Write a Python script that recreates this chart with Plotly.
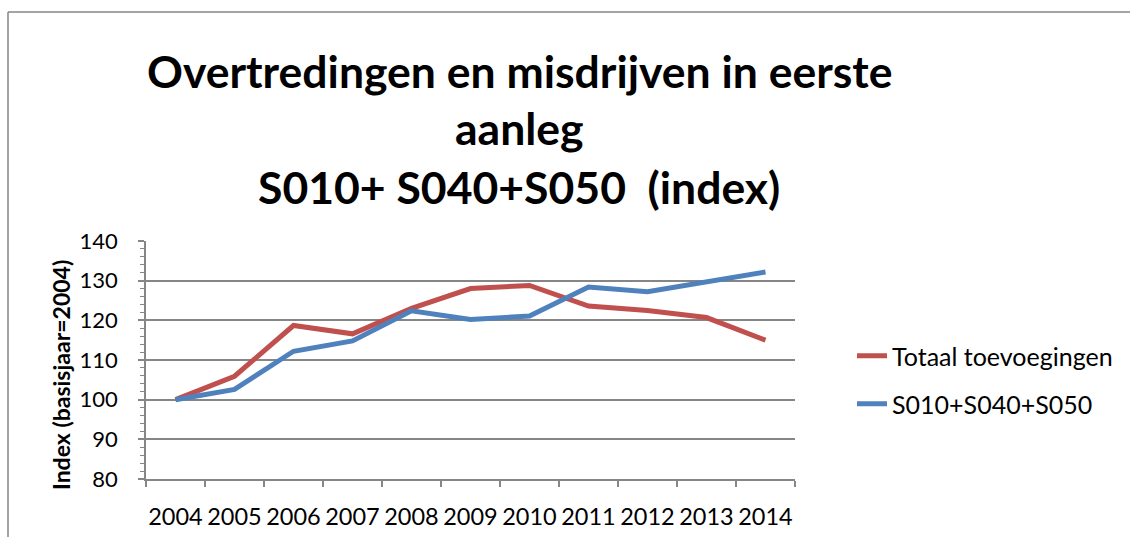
import plotly.graph_objects as go

years = ["2004", "2005", "2006", "2007", "2008", "2009", "2010", "2011", "2012", "2013", "2014"]
totaal = [100.0, 105.9, 118.7, 116.6, 123.0, 128.0, 128.8, 123.6, 122.5, 120.7, 115.0]
s010_s040_s050 = [100.0, 102.6, 112.2, 114.8, 122.4, 120.2, 121.1, 128.4, 127.2, 129.8, 132.2]
title_lines = ["Overtredingen en misdrijven in eerste", "aanleg", "S010+ S040+S050  (index)"]
y_title = "Index (basisjaar=2004)"

W, H = 1130, 537
L, R, T, B = 146, 795, 241, 479
pw, ph = R - L, B - T

def px(x):
    return (x - L) / pw

def py(y):
    return (B - y) / ph

FONT = "Lato"
grey = "#868686"

fig = go.Figure()
fig.add_trace(go.Scatter(x=years, y=totaal, mode="lines", name="Totaal toevoegingen",
                         line=dict(color="#C0504D", width=5), legend="legend"))
fig.add_trace(go.Scatter(x=years, y=s010_s040_s050, mode="lines", name="S010+S040+S050",
                         line=dict(color="#4F81BD", width=5), legend="legend2"))

annotations = []
for txt, yc in zip(title_lines, [70, 128, 186]):
    annotations.append(dict(text="<b>" + txt + "</b>", x=px(519), y=py(yc), xref="paper", yref="paper",
                            xanchor="center", yanchor="middle", showarrow=False,
                            font=dict(family=FONT, size=44.5, color="black")))
annotations.append(dict(text="<b>" + y_title + "</b>", x=px(61), y=py(375), xref="paper", yref="paper",
                        xanchor="center", yanchor="middle", showarrow=False, textangle=-90,
                        font=dict(family=FONT, size=23, color="black")))

shapes = [
    dict(type="line", xref="paper", yref="paper", x0=px(8), x1=px(1135), y0=py(12), y1=py(12),
         line=dict(color=grey, width=1.5)),
    dict(type="line", xref="paper", yref="paper", x0=px(8), x1=px(8), y0=py(12), y1=py(540),
         line=dict(color=grey, width=1.5)),
]

leg_common = dict(xref="paper", yref="paper", xanchor="left", yanchor="middle",
                  font=dict(family=FONT, size=25, color="black"), bgcolor="rgba(0,0,0,0)",
                  itemwidth=30)

fig.update_layout(
    width=W, height=H,
    margin=dict(l=L, r=W - R, t=T, b=H - B, pad=0, autoexpand=False),
    paper_bgcolor="white", plot_bgcolor="white",
    showlegend=True,
    legend=dict(x=px(852), y=py(356), **leg_common),
    legend2=dict(x=px(852), y=py(404), **leg_common),
    annotations=annotations,
    shapes=shapes,
    xaxis=dict(type="category", showgrid=False, showline=True, linecolor=grey, linewidth=1.5,
               ticks="outside", ticklen=6, tickcolor=grey, tickwidth=1.5, tickson="boundaries",
               ticklabelstandoff=16, tickangle=0, automargin=False,
               tickfont=dict(family=FONT, size=23.5, color="black"), range=[-0.5, 10.5]),
    yaxis=dict(range=[80, 140], dtick=10, showgrid=True, gridcolor=grey, gridwidth=1.5,
               showline=True, linecolor=grey, linewidth=1.5, zeroline=False, automargin=False,
               ticks="outside", ticklen=6, tickcolor=grey, tickwidth=1.5,
               ticklabelstandoff=16,
               minor=dict(dtick=2, ticks="outside", ticklen=4, tickcolor=grey, tickwidth=1, showgrid=False),
               tickfont=dict(family=FONT, size=22, color="black")),
)

fig.write_html("out.html", config={"displayModeBar": False},
               post_script="document.body.style.margin='0';document.body.style.overflow='hidden';")
